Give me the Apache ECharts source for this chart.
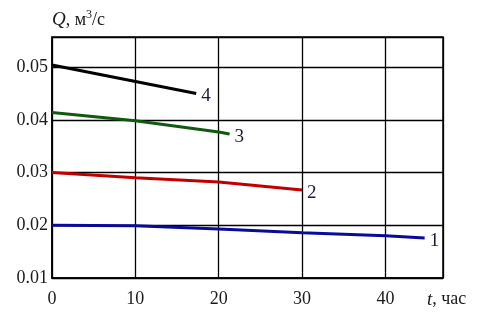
<!DOCTYPE html>
<html>
<head>
<meta charset="utf-8">
<script src="https://cdn.jsdelivr.net/npm/echarts@6/dist/echarts.min.js"></script>
<style>
	html, body { margin: 0; padding: 0; background: #fff; }
	#main { width: 483px; height: 316px; }
</style>
</head>
<body>
<div id="main"></div>
<script>
	// данные: t, час и Q, м3/с
	var curveNames = [ '1', '2', '3', '4' ];
	var t1 = [ 0, 10, 20, 30, 40, 44.7 ];
	var q1 = [ 0.0200, 0.0199, 0.0193, 0.0186, 0.0180, 0.0176 ];
	var t2 = [ 0, 10, 20, 30 ];
	var q2 = [ 0.0300, 0.0290, 0.0282, 0.0267 ];
	var t3 = [ 0, 10, 20, 21.3 ];
	var q3 = [ 0.0414, 0.0398, 0.0377, 0.0373 ];
	var t4 = [ 0, 17.3 ];
	var q4 = [ 0.0504, 0.0450 ];
	var curveColors = [ '#0a0a9a', '#c00000', '#0f5a0f', '#000000' ];

	var serif = '"Liberation Serif", "DejaVu Serif", serif';

	function pairs(t, q) {
		var out = [];
		for (var i = 0; i < t.length; i++) {
			out.push([ t[i], q[i] ]);
		}
		return out;
	}

	function makeSeries(idx, t, q) {
		return {
			name : curveNames[idx],
			type : 'line',
			data : pairs(t, q),
			symbol : 'none',
			silent : true,
			lineStyle : {
				color : curveColors[idx],
				width : 3
			},
			endLabel : {
				show : true,
				formatter : '{a}',
				distance : 5,
				color : '#1a1a3a',
				fontFamily : serif,
				fontSize : 19,
				offset : [ 0, 3 ]
			}
		};
	}

	var myChart = echarts.init(document.getElementById('main'));
	var option = {
		animation : false,
		grid : {
			left : 52,
			right : 40,
			top : 37,
			bottom : 38,
			show : true,
			borderColor : '#000',
			borderWidth : 1.5
		},
		xAxis : {
			type : 'value',
			min : 0,
			max : 46.9,
			interval : 10,
			name : '{i|t}, час',
			nameLocation : 'end',
			nameGap : -16,
			nameTextStyle : {
				align : 'left',
				verticalAlign : 'top',
				padding : [ 12, 0, 0, 0 ],
				color : '#1a1a1a',
				fontFamily : serif,
				fontSize : 18,
				rich : {
					i : { fontStyle : 'italic', fontFamily : serif, fontSize : 19, color : '#1a1a1a' }
				}
			},
			axisLine : { show : true, lineStyle : { color : '#000', width : 1.5 } },
			axisTick : { show : false },
			splitLine : { show : true, lineStyle : { color : '#000', width : 1.3 } },
			axisLabel : {
				showMaxLabel : false,
				margin : 12,
				color : '#1a1a1a',
				fontFamily : serif,
				fontSize : 18
			}
		},
		yAxis : {
			type : 'value',
			min : 0.01,
			max : 0.0557,
			interval : 0.01,
			name : '{i|Q}, м{s|3}/с',
			nameLocation : 'end',
			nameGap : 6,
			nameTextStyle : {
				align : 'left',
				color : '#1a1a1a',
				fontFamily : serif,
				fontSize : 18,
				rich : {
					i : { fontStyle : 'italic', fontFamily : serif, fontSize : 19, color : '#1a1a1a' },
					s : { fontFamily : serif, fontSize : 12, color : '#1a1a1a', verticalAlign : 'bottom', padding : [ 0, 0, 10, 0 ] }
				}
			},
			axisLine : { show : true, lineStyle : { color : '#000', width : 1.5 } },
			axisTick : { show : false },
			splitLine : { show : true, lineStyle : { color : '#000', width : 1.3 } },
			axisLabel : {
				showMaxLabel : false,
				margin : 4,
				color : '#1a1a1a',
				fontFamily : serif,
				fontSize : 18,
				formatter : function(v) {
					return v.toFixed(2);
				}
			}
		},
		series : [ makeSeries(0, t1, q1), makeSeries(1, t2, q2), makeSeries(2, t3, q3), makeSeries(3, t4, q4) ]
	};
	myChart.setOption(option);
</script>
</body>
</html>
